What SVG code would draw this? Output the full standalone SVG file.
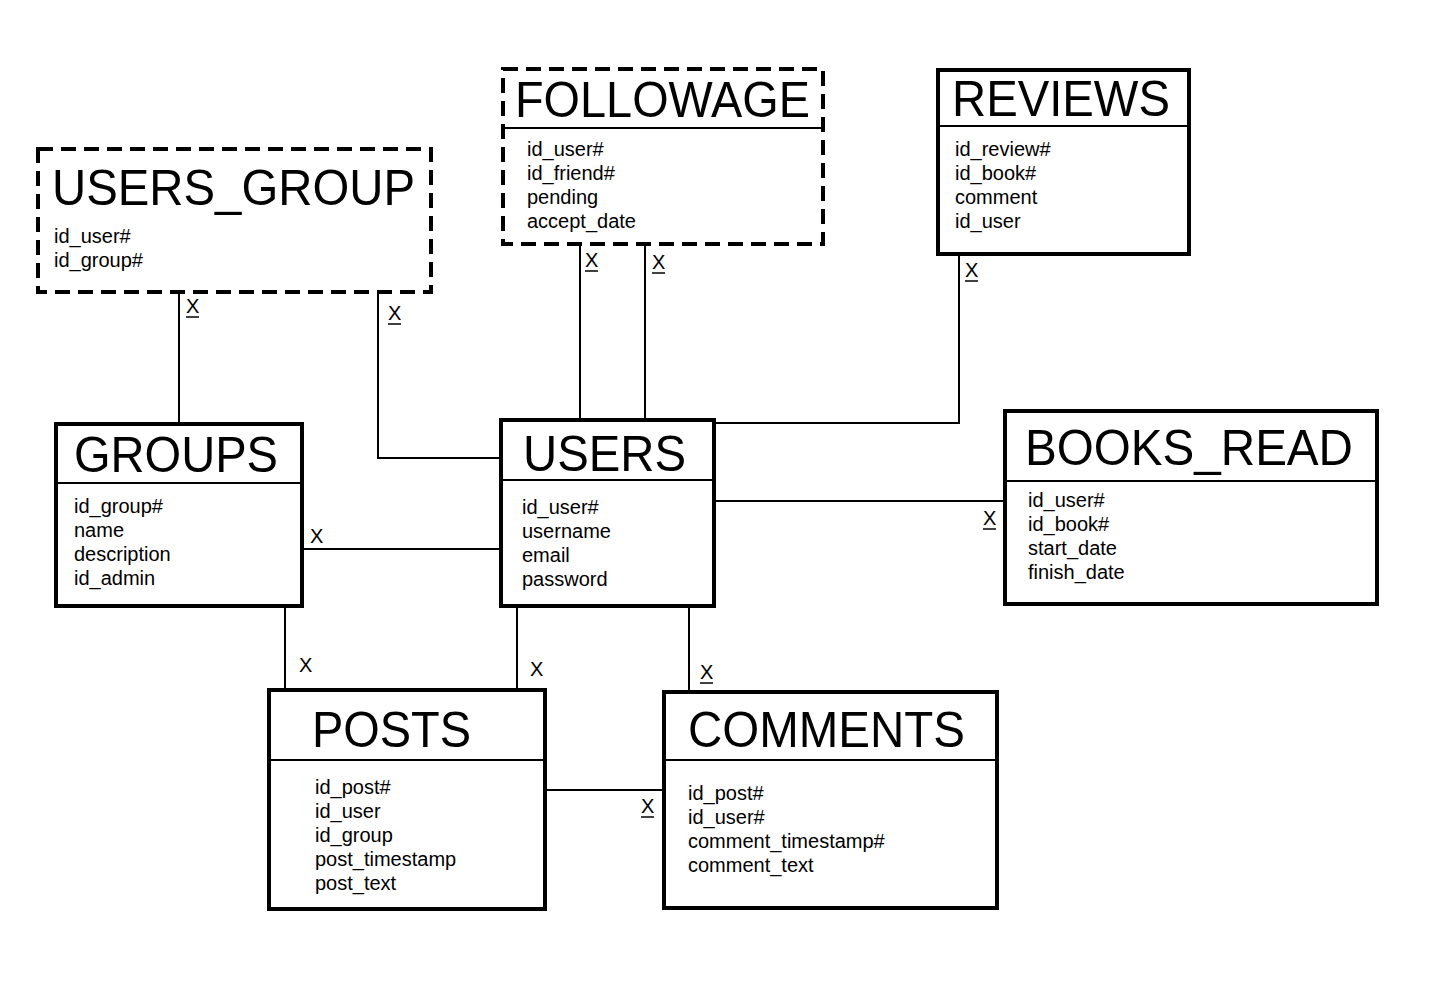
<svg xmlns="http://www.w3.org/2000/svg" width="1454" height="1001" viewBox="0 0 1454 1001">
<style>
.box{fill:#fff;stroke:#000;stroke-width:4}
.dash{fill:#fff;stroke:#000;stroke-width:4;stroke-dasharray:15 8}
.div{stroke:#000;stroke-width:2}
.conn{fill:none;stroke:#000;stroke-width:2}
.t{font-family:"Liberation Sans",Arial,sans-serif;font-size:50px;fill:#000}
.a{font-family:"Liberation Sans",Arial,sans-serif;font-size:20px;fill:#000}
.x{font-family:"Liberation Sans",Arial,sans-serif;font-size:20px;fill:#000}
.ul{stroke:#000;stroke-width:1.5}
</style>
<rect width="1454" height="1001" fill="#fff"/>
<g id="connectors">
<line class="conn" x1="179" y1="293" x2="179" y2="424"/>
<path class="conn" d="M378 293 V458 H501"/>
<line class="conn" x1="580" y1="244" x2="580" y2="420"/>
<line class="conn" x1="645" y1="244" x2="645" y2="420"/>
<path class="conn" d="M959 254 V423 H714"/>
<line class="conn" x1="714" y1="501" x2="1005" y2="501"/>
<line class="conn" x1="302" y1="549" x2="501" y2="549"/>
<line class="conn" x1="285" y1="606" x2="285" y2="690"/>
<line class="conn" x1="517" y1="606" x2="517" y2="690"/>
<line class="conn" x1="689" y1="606" x2="689" y2="692"/>
<line class="conn" x1="545" y1="790" x2="664" y2="790"/>
</g>
<g id="labels">
<text class="x" x="186" y="313">X</text><line class="ul" x1="186" y1="317" x2="199" y2="317"/>
<text class="x" x="388" y="320">X</text><line class="ul" x1="388" y1="324" x2="401" y2="324"/>
<text class="x" x="585" y="267">X</text><line class="ul" x1="585" y1="271" x2="598" y2="271"/>
<text class="x" x="652" y="269">X</text><line class="ul" x1="652" y1="273" x2="665" y2="273"/>
<text class="x" x="965" y="277">X</text><line class="ul" x1="965" y1="281" x2="978" y2="281"/>
<text class="x" x="310" y="543">X</text>
<text class="x" x="983" y="525">X</text><line class="ul" x1="983" y1="529" x2="996" y2="529"/>
<text class="x" x="299" y="672">X</text>
<text class="x" x="530" y="676">X</text>
<text class="x" x="700" y="679">X</text><line class="ul" x1="700" y1="683" x2="713" y2="683"/>
<text class="x" x="641" y="813">X</text><line class="ul" x1="641" y1="817" x2="654" y2="817"/>
</g>
<g id="users_group">
<rect class="dash" x="38" y="149" width="393" height="143"/>
<text class="t" x="52" y="205" textLength="363" lengthAdjust="spacingAndGlyphs">USERS_GROUP</text>
<text class="a" x="54" y="243">id_user#</text>
<text class="a" x="54" y="267">id_group#</text>
</g>
<g id="followage">
<rect class="dash" x="503" y="69" width="320" height="175"/>
<line class="div" x1="503" y1="128" x2="823" y2="128"/>
<text class="t" x="515" y="117" textLength="295" lengthAdjust="spacingAndGlyphs">FOLLOWAGE</text>
<text class="a" x="527" y="156">id_user#</text>
<text class="a" x="527" y="180">id_friend#</text>
<text class="a" x="527" y="204">pending</text>
<text class="a" x="527" y="228">accept_date</text>
</g>
<g id="reviews">
<rect class="box" x="938" y="70" width="251" height="184"/>
<line class="div" x1="938" y1="126" x2="1189" y2="126"/>
<text class="t" x="952" y="116" textLength="218" lengthAdjust="spacingAndGlyphs">REVIEWS</text>
<text class="a" x="955" y="156">id_review#</text>
<text class="a" x="955" y="180">id_book#</text>
<text class="a" x="955" y="204">comment</text>
<text class="a" x="955" y="228">id_user</text>
</g>
<g id="groups">
<rect class="box" x="56" y="424" width="246" height="182"/>
<line class="div" x1="56" y1="483" x2="302" y2="483"/>
<text class="t" x="74" y="472" textLength="204" lengthAdjust="spacingAndGlyphs">GROUPS</text>
<text class="a" x="74" y="513">id_group#</text>
<text class="a" x="74" y="537">name</text>
<text class="a" x="74" y="561">description</text>
<text class="a" x="74" y="585">id_admin</text>
</g>
<g id="users">
<rect class="box" x="501" y="420" width="213" height="186"/>
<line class="div" x1="501" y1="480" x2="714" y2="480"/>
<text class="t" x="523" y="471" textLength="163" lengthAdjust="spacingAndGlyphs">USERS</text>
<text class="a" x="522" y="514">id_user#</text>
<text class="a" x="522" y="538">username</text>
<text class="a" x="522" y="562">email</text>
<text class="a" x="522" y="586">password</text>
</g>
<g id="books_read">
<rect class="box" x="1005" y="411" width="372" height="193"/>
<line class="div" x1="1005" y1="481" x2="1377" y2="481"/>
<text class="t" x="1025" y="465" textLength="328" lengthAdjust="spacingAndGlyphs">BOOKS_READ</text>
<text class="a" x="1028" y="507">id_user#</text>
<text class="a" x="1028" y="531">id_book#</text>
<text class="a" x="1028" y="555">start_date</text>
<text class="a" x="1028" y="579">finish_date</text>
</g>
<g id="posts">
<rect class="box" x="269" y="690" width="276" height="219"/>
<line class="div" x1="269" y1="760" x2="545" y2="760"/>
<text class="t" x="312" y="747" textLength="159" lengthAdjust="spacingAndGlyphs">POSTS</text>
<text class="a" x="315" y="794">id_post#</text>
<text class="a" x="315" y="818">id_user</text>
<text class="a" x="315" y="842">id_group</text>
<text class="a" x="315" y="866">post_timestamp</text>
<text class="a" x="315" y="890">post_text</text>
</g>
<g id="comments">
<rect class="box" x="664" y="692" width="333" height="216"/>
<line class="div" x1="664" y1="760" x2="997" y2="760"/>
<text class="t" x="688" y="747" textLength="277" lengthAdjust="spacingAndGlyphs">COMMENTS</text>
<text class="a" x="688" y="800">id_post#</text>
<text class="a" x="688" y="824">id_user#</text>
<text class="a" x="688" y="848">comment_timestamp#</text>
<text class="a" x="688" y="872">comment_text</text>
</g>
</svg>
